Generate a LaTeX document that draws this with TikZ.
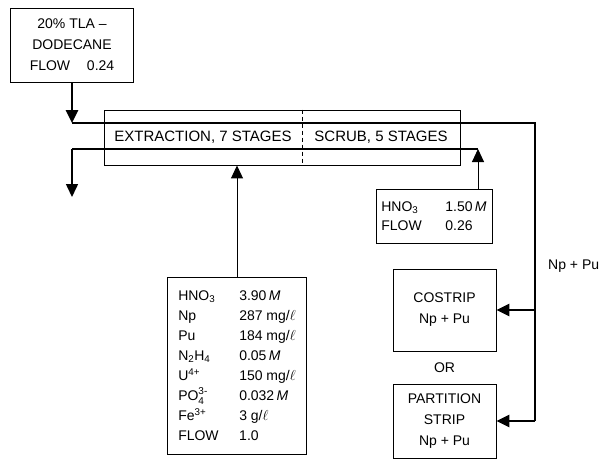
\documentclass[tikz,border=0pt]{standalone}
\usepackage{fontspec}
\setmainfont{Liberation Sans}
\usetikzlibrary{arrows.meta}
\newcommand\mysupsub[2]{\rlap{\raisebox{6pt}{\fontsize{10}{10}\selectfont #1}}\raisebox{-4pt}{\fontsize{10}{10}\selectfont #2}}
\begin{document}
\begin{tikzpicture}[x=1pt,y=-1pt,
  box/.style={draw, line width=0.9pt, inner sep=0pt, align=center, font=\fontsize{14}{21}\selectfont},
  lbl/.style={inner sep=0pt, font=\fontsize{14}{21}\selectfont},
  thinflow/.style={line width=1pt},
  midflow/.style={line width=1.5pt},
  heavy/.style={line width=2.6pt},
  tip/.style={-{Triangle[length=13pt,width=12pt]}},
  divider/.style={line width=0.9pt, dash pattern=on 4pt off 3pt},
]
\useasboundingbox (0,0) rectangle (602,459);

% feed solvent box
\node[box, minimum width=123, minimum height=74] (tla) at (72,45)
  {20\% TLA --\\DODECANE\\FLOW\hspace{1.2em}0.24};

% column box
\node[draw, line width=0.9pt, minimum width=356, minimum height=55, inner sep=0pt] (col) at (282,137.5) {};
\node[lbl, font=\fontsize{15}{18}\selectfont] (ext) at (203,137) {EXTRACTION, 7 STAGES};
\node[lbl, font=\fontsize{15}{18}\selectfont] (scr) at (381,137) {SCRUB, 5 STAGES};
\coordinate (dv) at (302,0);
\draw[divider] (dv |- col.north) -- (dv |- col.south);

% scrub feed
\node[box, minimum width=116, minimum height=54, align=left] (sb) at (434,216)
  {\makebox[64pt][l]{HNO\textsubscript{3}}1.50\,\textit{M}\\[-2pt]
   \makebox[64pt][l]{FLOW}0.26};

% aqueous feed
\node[box, minimum width=139, minimum height=177, align=left, font=\fontsize{14}{20}\selectfont] (feed) at (237,365.5)
  {\makebox[61pt][l]{HNO\textsubscript{3}}3.90\,\textit{M}\\
   \makebox[61pt][l]{Np}287 mg/$\ell$\\
   \makebox[61pt][l]{Pu}184 mg/$\ell$\\
   \makebox[61pt][l]{N\textsubscript{2}H\textsubscript{4}}0.05\,\textit{M}\\
   \makebox[61pt][l]{U\textsuperscript{4+}}150 mg/$\ell$\\
   \makebox[61pt][l]{PO\mysupsub{3-}{4}}0.032\,\textit{M}\\
   \makebox[61pt][l]{Fe\textsuperscript{3+}}3 g/$\ell$\\
   \makebox[61pt][l]{FLOW}1.0};

% strip boxes
\node[box, minimum width=103, minimum height=82] (cos) at (444.5,310) {COSTRIP\\Np + Pu};
\node[lbl] (or) at (444.5,368) {OR};
\node[box, minimum width=103, minimum height=74] (part) at (444.5,421) {PARTITION\\STRIP\\Np + Pu};
\node[lbl, anchor=west] (nppu) at (548,266) {Np + Pu};

% flows
\coordinate (org) at (0,123);
\coordinate (rt) at (535,123);
\coordinate (aqR) at (478,149);
\coordinate (aqL) at (72,149);
\coordinate (aqOut) at (72,197);

\draw[heavy, tip] (tla.south) -- (tla.south |- org);
\draw[heavy] (tla.south |- org) -- (rt) -- (rt |- part.east);
\draw[heavy, tip] (rt |- cos.east) -- (cos.east);
\draw[heavy, tip] (rt |- part.east) -- (part.east);

\draw[thinflow, tip] (aqR |- sb.north) -- (aqR);
\draw[midflow] (aqR) -- (aqL);
\draw[midflow, tip] (aqL) -- (aqOut);

\draw[thinflow, tip] (feed.north) -- (feed.north |- col.south);
\end{tikzpicture}
\end{document}
